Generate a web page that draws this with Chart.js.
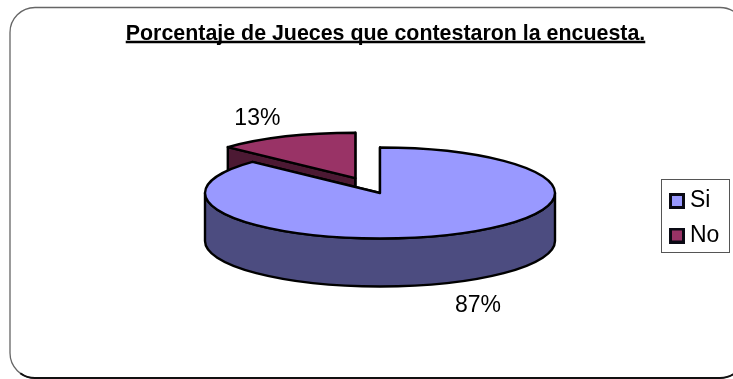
<!DOCTYPE html>
<html>
<head>
<meta charset="utf-8">
<style>
  html, body { margin: 0; padding: 0; background: #ffffff; }
  #wrap { position: relative; width: 733px; height: 379px; }
</style>
<script src="https://cdn.jsdelivr.net/npm/chart.js@4"></script>
</head>
<body>
<div id="wrap"><canvas id="chart" width="733" height="379"></canvas></div>
<script>
const categories = ['Si', 'No'];
const shares = [87, 13];
const topColours = ['#9999ff', '#993366'];
const wallColours = ['#4c4c80', '#4c1933'];
const chartTitle = 'Porcentaje de Jueces que contestaron la encuesta.';
const fontFamily = '"Liberation Sans", Arial, sans-serif';
const titleSize = 21.4;

// Tilt of the pie: vertical squash and extruded thickness in pixels.
const tilt = 0.26;
const thickness = 48;
const labelDrop = 6;
const labelRise = 1;
const sliceExplode = [0, 62];
const plotBox = { left: 205, right: 555, top: 18, bottom: 368 };
const legendBox = { left: 661.5, top: 179.5, right: 729.5, bottom: 252.5 };

function arcGeometry(arc) {
  const p = arc.getProps(['x', 'y', 'startAngle', 'endAngle', 'outerRadius']);
  const mid = (p.startAngle + p.endAngle) / 2;
  const off = arc.options.offset || 0;
  return {
    x: p.x + Math.cos(mid) * off,
    y: p.y + Math.sin(mid) * off * tilt,
    a0: p.startAngle, a1: p.endAngle, r: p.outerRadius, mid
  };
}

function drawCutFaces(ctx, g, colour) {
  ctx.fillStyle = colour;
  [g.a0, g.a1].forEach(angle => {
    const ex = g.x + Math.cos(angle) * g.r;
    const ey = g.y + Math.sin(angle) * g.r * tilt;
    ctx.beginPath();
    ctx.moveTo(g.x, g.y);
    ctx.lineTo(ex, ey);
    ctx.lineTo(ex, ey + thickness);
    ctx.lineTo(g.x, g.y + thickness);
    ctx.closePath();
    ctx.fill();
    ctx.stroke();
  });
}

function drawRim(ctx, g, colour) {
  // Only the half of the ellipse that faces the viewer shows a rim.
  const s = Math.max(g.a0, 0), e = Math.min(g.a1, Math.PI);
  if (e <= s) return;
  ctx.fillStyle = colour;
  ctx.beginPath();
  ctx.ellipse(g.x, g.y, g.r, g.r * tilt, 0, s, e);
  ctx.ellipse(g.x, g.y + thickness, g.r, g.r * tilt, 0, e, s, true);
  ctx.closePath();
  ctx.fill();
  ctx.stroke();
}

function drawTop(ctx, g, colour) {
  ctx.fillStyle = colour;
  ctx.beginPath();
  ctx.moveTo(g.x, g.y);
  ctx.ellipse(g.x, g.y, g.r, g.r * tilt, 0, g.a0, g.a1);
  ctx.closePath();
  ctx.fill();
  ctx.stroke();
}

// Legend swatch: filled square with a heavy dark outline.
function swatch(colour) {
  const c = document.createElement('canvas');
  c.width = 16; c.height = 16;
  const x = c.getContext('2d');
  x.fillStyle = colour;
  x.fillRect(0, 0, 16, 16);
  x.strokeStyle = '#0a0a14';
  x.lineWidth = 3;
  x.strokeRect(1.5, 1.5, 13, 13);
  return c;
}

const pie3d = {
  id: 'pie3d',
  beforeDraw(chart) {
    // Rounded frame around the whole figure; it runs past the right edge.
    const { ctx } = chart;
    ctx.save();
    ctx.strokeStyle = '#666666';
    ctx.lineWidth = 1.3;
    ctx.beginPath();
    ctx.roundRect(10, 7.5, 735, 370.5, 25);
    ctx.stroke();
    // The lower edge is heavier than the rest of the frame.
    ctx.strokeStyle = '#111111';
    ctx.lineWidth = 2;
    ctx.beginPath();
    ctx.arc(35, 353, 25, Math.PI * 0.7, Math.PI * 0.5, true);
    ctx.arc(720, 353, 25, Math.PI * 0.5, 0, true);
    ctx.stroke();
    ctx.restore();
  },
  afterLayout(chart) {
    // Fixed placement of the plot, the title and the framed legend.
    Object.assign(chart.chartArea, plotBox, {
      width: plotBox.right - plotBox.left,
      height: plotBox.bottom - plotBox.top
    });
    chart.titleBlock.left = 38;
    const l = chart.legend;
    l.left = legendBox.left + 2.5;
    l.right = legendBox.right;
    l.top = legendBox.top - 1.5;
    l.bottom = legendBox.bottom + 60;
  },
  beforeDatasetDraw(chart, args) {
    const { ctx } = chart;
    const arcs = chart.getDatasetMeta(args.index).data;
    ctx.save();
    ctx.strokeStyle = '#000000';
    ctx.lineWidth = 2.4;
    ctx.lineJoin = 'round';
    // The exploded slice sits behind the main one, so it is painted first.
    arcs.map((_, i) => i).reverse().forEach(i => {
      const g = arcGeometry(arcs[i]);
      drawCutFaces(ctx, g, wallColours[i]);
      drawRim(ctx, g, wallColours[i]);
      drawTop(ctx, g, topColours[i]);
    });
    ctx.restore();
    return false;
  },
  afterDatasetsDraw(chart) {
    const { ctx } = chart;
    const arcs = chart.getDatasetMeta(0).data;
    const total = shares.reduce((a, b) => a + b, 0);
    ctx.save();
    ctx.fillStyle = '#000000';
    ctx.font = '23px ' + fontFamily;
    ctx.textAlign = 'center';
    ctx.textBaseline = 'middle';
    arcs.forEach((arc, i) => {
      const g = arcGeometry(arc);
      const reach = g.r * 1.41;
      const shift = Math.sin(g.mid) > 0 ? thickness + labelDrop : -labelRise;
      const x = g.x + Math.cos(g.mid) * reach;
      const y = g.y + Math.sin(g.mid) * reach * tilt + shift;
      ctx.fillText(Math.round(shares[i] / total * 100) + '%', x, y);
    });
    ctx.restore();
  },
  afterDraw(chart) {
    const { ctx } = chart;
    ctx.save();
    ctx.strokeStyle = '#555555';
    ctx.lineWidth = 1;
    ctx.strokeRect(legendBox.left, legendBox.top,
      legendBox.right - legendBox.left, legendBox.bottom - legendBox.top);
    // Underline below the title.
    const t = chart.titleBlock;
    ctx.font = 'bold ' + titleSize + 'px ' + fontFamily;
    const w = ctx.measureText(chartTitle).width;
    const cx = (t.left + t.right) / 2;
    ctx.strokeStyle = '#000000';
    ctx.lineWidth = 2.4;
    ctx.beginPath();
    ctx.moveTo(cx - w / 2, 42);
    ctx.lineTo(cx + w / 2, 42);
    ctx.stroke();
    ctx.restore();
  }
};

new Chart(document.getElementById('chart'), {
  type: 'pie',
  data: {
    labels: categories,
    datasets: [{
      data: shares,
      backgroundColor: topColours,
      borderColor: '#000000',
      borderWidth: 2,
      offset: sliceExplode
    }]
  },
  options: {
    responsive: false,
    animation: false,
    radius: 175,
    plugins: {
      title: {
        display: true,
        text: chartTitle,
        color: '#000000',
        font: { family: fontFamily, size: titleSize, weight: 'bold' },
        padding: { top: 21, bottom: 0 }
      },
      legend: {
        position: 'right',
        align: 'start',
        labels: {
          color: '#000000',
          font: { family: fontFamily, size: 23 },
          usePointStyle: true,
          boxWidth: 3,
          boxHeight: 12,
          padding: 11.5,
          generateLabels() {
            return categories.map((c, i) => ({
              text: c,
              fillStyle: topColours[i],
              strokeStyle: '#000000',
              lineWidth: 0,
              pointStyle: swatch(topColours[i]),
              index: i,
              hidden: false
            }));
          }
        }
      },
      tooltip: { enabled: false }
    }
  },
  plugins: [pie3d]
});
</script>
</body>
</html>
